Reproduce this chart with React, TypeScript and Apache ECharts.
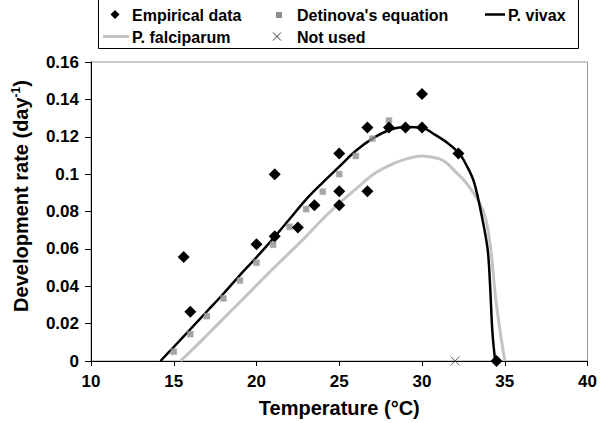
import React, { useEffect, useRef } from "react";
import * as echarts from "echarts";

const empiricalT = [15.6, 16, 20, 21.1, 21.1, 22.5, 23.5, 25, 25, 25, 26.7, 26.7, 28, 29, 30, 30, 32.2, 34.5];
const empiricalRate = [0.0556, 0.0263, 0.0625, 0.0667, 0.1, 0.0714, 0.0833, 0.111, 0.0909, 0.0833, 0.125, 0.0909, 0.125, 0.125, 0.125, 0.1429, 0.111, 0];

const detinovaT = [15, 16, 17, 18, 19, 20, 21, 22, 23, 24, 25, 26, 27, 28];
const detinovaRate = [0.005, 0.0144, 0.024, 0.0335, 0.043, 0.0526, 0.0622, 0.0718, 0.0813, 0.0906, 0.1, 0.1097, 0.119, 0.1287];

const vivaxT = [14.2, 15, 16, 17, 18, 19, 20, 21, 22, 23, 24, 25, 26, 27, 28, 29, 30, 30.8, 31.6, 32.25, 32.7, 33.15, 33.6, 33.96, 34.1, 34.25, 34.42];
const vivaxRate = [0, 0.0075, 0.017, 0.0265, 0.036, 0.046, 0.0555, 0.0655, 0.076, 0.0865, 0.0955, 0.104, 0.1125, 0.119, 0.1235, 0.1252, 0.1248, 0.121, 0.1163, 0.111, 0.1045, 0.0955, 0.078, 0.06, 0.0424, 0.0158, 0];

const falciparumT = [15.4, 16, 17, 18, 19, 20, 21, 22, 23, 24, 25, 26, 27, 28, 29, 30, 31, 31.45, 32, 32.65, 33.45, 33.85, 34.15, 34.45, 34.75, 35];
const falciparumRate = [0, 0.005, 0.0138, 0.0227, 0.0316, 0.0405, 0.0494, 0.058, 0.0667, 0.076, 0.0843, 0.092, 0.0995, 0.1045, 0.108, 0.1097, 0.1083, 0.1062, 0.1015, 0.0955, 0.085, 0.076, 0.06, 0.0335, 0.014, 0];

const notUsedT = [32];
const notUsedRate = [0];

const xTicks = { min: 10, max: 40, interval: 5 };
const yTicks = { min: 0, max: 0.16, interval: 0.02 };

const FONT = "'Liberation Sans', Arial, Helvetica, sans-serif";
const zip = (a: number[], b: number[]) => a.map((v, i) => [v, b[i]]);

export default function App() {
  const ref = useRef<HTMLDivElement>(null);
  useEffect(() => {
    document.body.style.margin = "0";
    const chart = echarts.init(ref.current!, null, { renderer: "svg" });
    const legendText = (x: number, y: number, t: string) => ({
      type: "text",
      x,
      y,
      style: { text: t, fontFamily: FONT, fontWeight: "bold", fontSize: 16, fill: "#000", textAlign: "left", textVerticalAlign: "middle" },
    });
    chart.setOption({
      animation: false,
      grid: { left: 91, right: 11, top: 62, bottom: 60, show: true, borderColor: "#999", borderWidth: 1 },
      xAxis: {
        type: "value",
        min: xTicks.min,
        max: xTicks.max,
        interval: xTicks.interval,
        axisLine: { onZero: false, lineStyle: { color: "#000", width: 1 } },
        axisTick: { show: true, length: 5, lineStyle: { color: "#000" } },
        splitLine: { show: false },
        axisLabel: { fontFamily: FONT, fontWeight: "bold", fontSize: 17, color: "#000", margin: 12 },
        name: "Temperature (°C)",
        nameLocation: "middle",
        nameGap: 37,
        nameTextStyle: { fontFamily: FONT, fontWeight: "bold", fontSize: 20, color: "#000" },
      },
      yAxis: {
        type: "value",
        min: yTicks.min,
        max: yTicks.max,
        interval: yTicks.interval,
        axisLine: { show: true, lineStyle: { color: "#000", width: 1 } },
        axisTick: { show: true, length: 6, lineStyle: { color: "#000" } },
        splitLine: { show: false },
        axisLabel: { fontFamily: FONT, fontWeight: "bold", fontSize: 17, color: "#000", margin: 12 },
      },
      series: [
        {
          name: "P. falciparum",
          type: "line",
          data: zip(falciparumT, falciparumRate),
          showSymbol: false,
          smooth: 0.35,
          lineStyle: { color: "#c4c4c4", width: 3 },
          z: 2,
        },
        {
          name: "P. vivax",
          type: "line",
          data: zip(vivaxT, vivaxRate),
          showSymbol: false,
          smooth: 0.35,
          lineStyle: { color: "#000", width: 2.5 },
          z: 3,
        },
        {
          name: "Detinova's equation",
          type: "scatter",
          data: zip(detinovaT, detinovaRate),
          symbol: "rect",
          symbolSize: 6,
          itemStyle: { color: "#8f8f8f", borderColor: "#aaa", borderWidth: 0.5 },
          z: 4,
        },
        {
          name: "Empirical data",
          type: "scatter",
          data: zip(empiricalT, empiricalRate),
          symbol: "diamond",
          symbolSize: [12, 12],
          itemStyle: { color: "#000", opacity: 1 },
          z: 5,
        },
        {
          name: "Not used",
          type: "scatter",
          data: zip(notUsedT, notUsedRate),
          symbol: "path://M0,0L10,10M10,0L0,10",
          symbolSize: 9,
          itemStyle: { color: "none", borderColor: "#333", borderWidth: 1 },
          z: 5,
        },
      ],
      graphic: [
        { type: "rect", shape: { x: 98.5, y: -0.5, width: 480, height: 49 }, style: { fill: "#fff", stroke: "#000", lineWidth: 1 } },
        { type: "polygon", shape: { points: [[115, 10], [119.5, 14.5], [115, 19], [110.5, 14.5]] }, style: { fill: "#000" } },
        legendText(132, 15, "Empirical data"),
        { type: "rect", shape: { x: 276, y: 12, width: 6, height: 6 }, style: { fill: "#8f8f8f" } },
        legendText(297, 15, "Detinova's equation"),
        { type: "line", shape: { x1: 485, y1: 14.5, x2: 505, y2: 14.5 }, style: { stroke: "#000", lineWidth: 2.5 } },
        legendText(508, 15, "P. vivax"),
        { type: "line", shape: { x1: 103, y1: 36.5, x2: 129, y2: 36.5 }, style: { stroke: "#c4c4c4", lineWidth: 3 } },
        legendText(132, 37, "P. falciparum"),
        { type: "line", shape: { x1: 273, y1: 32.5, x2: 281, y2: 40.5 }, style: { stroke: "#333", lineWidth: 1 } },
        { type: "line", shape: { x1: 281, y1: 32.5, x2: 273, y2: 40.5 }, style: { stroke: "#333", lineWidth: 1 } },
        legendText(297, 37, "Not used"),
        {
          type: "text",
          x: 21,
          y: 196,
          rotation: Math.PI / 2,
          style: {
            text: "{a|Development rate (day}{b|-1}{a|)}",
            textAlign: "center",
            textVerticalAlign: "middle",
            rich: {
              a: { fontFamily: FONT, fontWeight: "bold", fontSize: 20, fill: "#000", lineHeight: 22 },
              b: { fontFamily: FONT, fontWeight: "bold", fontSize: 12, fill: "#000", lineHeight: 22, verticalAlign: "top" },
            },
          },
        },
      ],
    });
    return () => chart.dispose();
  }, []);
  return <div ref={ref} style={{ width: 600, height: 423 }} />;
}
